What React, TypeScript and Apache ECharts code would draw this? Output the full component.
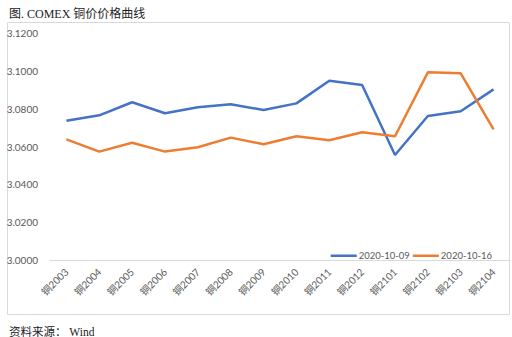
import React, { useEffect, useRef } from "react";
import * as echarts from "echarts";

const categories = ["铜2003", "铜2004", "铜2005", "铜2006", "铜2007", "铜2008", "铜2009", "铜2010", "铜2011", "铜2012", "铜2101", "铜2102", "铜2103", "铜2104"];
const series1009 = [3.0736, 3.0765, 3.0834, 3.0776, 3.0807, 3.0823, 3.0793, 3.0828, 3.0948, 3.0925, 3.0555, 3.0761, 3.0786, 3.0902];
const series1016 = [3.0638, 3.0573, 3.0620, 3.0573, 3.0596, 3.0647, 3.0612, 3.0654, 3.0633, 3.0675, 3.0654, 3.0992, 3.0987, 3.0691];
const seriesNames = ["2020-10-09", "2020-10-16"];
const yMin = 3.0;
const yMax = 3.12;
const yStep = 0.02;

const sansFont = "Lato, 'Noto Sans CJK SC', sans-serif";
const serifFont = "'Liberation Serif', 'Noto Sans CJK SC', serif";

export default function App() {
  const ref = useRef<HTMLDivElement>(null);
  useEffect(() => {
    const chart = echarts.init(ref.current!, null, { renderer: "svg" });
    chart.setOption({
      animation: false,
      backgroundColor: "#ffffff",
      title: [
        {
          text: "图. COMEX 铜价价格曲线",
          left: 4,
          top: 3,
          textStyle: { fontFamily: serifFont, fontSize: 12, fontWeight: "normal", color: "#222" },
        },
        {
          text: "资料来源： Wind",
          left: 4,
          top: 321,
          textStyle: { fontFamily: serifFont, fontSize: 11.5, fontWeight: "normal", color: "#222" },
        },
      ],
      graphic: [
        {
          type: "rect",
          shape: { x: 7.5, y: 22.5, width: 502, height: 292 },
          style: { fill: "none", stroke: "#d9d9d9", lineWidth: 1 },
          silent: true,
        },
      ],
      legend: {
        data: seriesNames,
        right: 15,
        top: 246,
        icon: "rect",
        itemWidth: 26,
        itemHeight: 2.5,
        itemGap: 3,
        textStyle: { fontFamily: sansFont, fontSize: 9.5, color: "#595959", padding: [0, 0, 0, -3] },
      },
      grid: { left: 50, right: 2, top: 33, bottom: 77 },
      xAxis: {
        type: "category",
        data: categories,
        boundaryGap: true,
        axisLine: { lineStyle: { color: "#d9d9d9", width: 1 } },
        axisTick: { show: false },
        axisLabel: {
          rotate: 45,
          interval: 0,
          margin: 10,
          fontFamily: sansFont,
          fontSize: 10,
          color: "#595959",
        },
      },
      yAxis: {
        type: "value",
        min: yMin,
        max: yMax,
        interval: yStep,
        axisLine: { show: false },
        axisTick: { show: false },
        splitLine: { show: false },
        axisLabel: {
          formatter: (v: number) => v.toFixed(4),
          margin: 12,
          fontFamily: sansFont,
          fontSize: 10,
          color: "#595959",
        },
      },
      series: [
        {
          name: seriesNames[0],
          type: "line",
          data: series1009,
          symbol: "none",
          lineStyle: { color: "#4472C4", width: 2.5 },
          itemStyle: { color: "#4472C4" },
        },
        {
          name: seriesNames[1],
          type: "line",
          data: series1016,
          symbol: "none",
          lineStyle: { color: "#ED7D31", width: 2.5 },
          itemStyle: { color: "#ED7D31" },
        },
      ],
    });
    return () => chart.dispose();
  }, []);
  return <div ref={ref} style={{ position: "fixed", left: 0, top: 0, width: 512, height: 337 }} />;
}
